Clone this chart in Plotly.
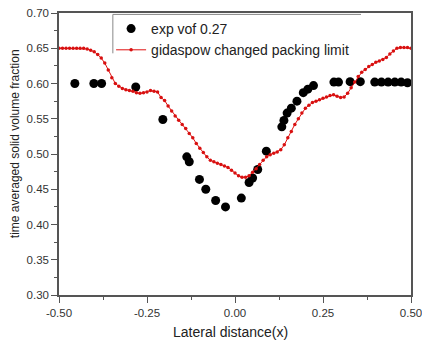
import plotly.graph_objects as go

# Experimental time-averaged solid volume fraction (vof 0.27)
exp_x = [-0.455, -0.401, -0.379, -0.282, -0.205, -0.137, -0.130, -0.101, -0.083,
         -0.055, -0.027, 0.018, 0.040, 0.050, 0.0645, 0.089, 0.133, 0.139, 0.148,
         0.160, 0.176, 0.194, 0.207, 0.223, 0.281, 0.294, 0.327, 0.356, 0.397,
         0.416, 0.435, 0.454, 0.472, 0.490]
exp_y = [0.600, 0.600, 0.600, 0.595, 0.549, 0.496, 0.489, 0.464, 0.450,
         0.434, 0.425, 0.4375, 0.4595, 0.466, 0.478, 0.504, 0.5385, 0.5476, 0.558,
         0.565, 0.575, 0.587, 0.592, 0.597, 0.602, 0.602, 0.6026, 0.6026, 0.602,
         0.602, 0.602, 0.602, 0.602, 0.601]

# Simulation: Gidaspow drag with changed packing limit
sim_x = [round(-0.50 + 0.01 * i, 2) for i in range(101)]
sim_y = [0.650, 0.650, 0.650, 0.650, 0.650, 0.650, 0.650, 0.650, 0.649, 0.647,
         0.645, 0.641, 0.636, 0.629, 0.619, 0.608, 0.600, 0.596, 0.593, 0.591,
         0.590, 0.589, 0.587, 0.586, 0.587, 0.588, 0.590, 0.589, 0.588, 0.580,
         0.576, 0.568, 0.561, 0.554, 0.548, 0.542, 0.536, 0.529, 0.523, 0.515,
         0.508, 0.502, 0.496, 0.491, 0.489, 0.487, 0.485, 0.483, 0.481, 0.477,
         0.473, 0.469, 0.467, 0.467, 0.469, 0.474, 0.479, 0.485, 0.491, 0.496,
         0.499, 0.501, 0.503, 0.506, 0.513, 0.523, 0.532, 0.542, 0.550, 0.558,
         0.565, 0.569, 0.573, 0.575, 0.577, 0.579, 0.581, 0.583, 0.584, 0.582,
         0.580, 0.581, 0.586, 0.594, 0.602, 0.610, 0.616, 0.620, 0.624, 0.627,
         0.630, 0.632, 0.634, 0.637, 0.642, 0.646, 0.650, 0.651, 0.651, 0.651,
         0.650]

x_ticks = [-0.50, -0.25, 0.00, 0.25, 0.50]
x_tick_text = ["-0.50", "-0.25", "0.00", "0.25", "0.50"]
y_ticks = [0.30, 0.35, 0.40, 0.45, 0.50, 0.55, 0.60, 0.65, 0.70]
y_tick_text = ["0.30", "0.35", "0.40", "0.45", "0.50", "0.55", "0.60", "0.65", "0.70"]

FONT = "Arial, Liberation Sans, sans-serif"
AXIS = "#555555"

fig = go.Figure()
fig.add_trace(go.Scatter(
    x=exp_x, y=exp_y, mode="markers", name="exp vof 0.27",
    marker=dict(color="black", size=9, line=dict(width=0)),
))
fig.add_trace(go.Scatter(
    x=sim_x, y=sim_y, mode="lines+markers", name="gidaspow changed packing limit",
    line=dict(color="#e01010", width=1),
    marker=dict(color="#d81010", size=3.5),
))

axis_common = dict(
    showline=True, linecolor=AXIS, linewidth=1.5, mirror=True,
    ticks="outside", ticklen=6, tickwidth=1.2, tickcolor=AXIS,
    showgrid=False, zeroline=False, automargin=False,
    ticklabeloverflow="allow",
    tickfont=dict(family=FONT, size=11.5, color="#333333"),
)

fig.update_xaxes(
    range=[-0.5, 0.5], tickvals=x_ticks, ticktext=x_tick_text,
    minor=dict(dtick=0.125, ticks="outside", ticklen=3, tickcolor=AXIS, tickwidth=1),
    **axis_common,
)
fig.update_yaxes(
    range=[0.30, 0.70], tickvals=y_ticks, ticktext=y_tick_text,
    minor=dict(dtick=0.025, ticks="outside", ticklen=3, tickcolor=AXIS, tickwidth=1),
    **axis_common,
)

# Axis titles
fig.add_annotation(text="Lateral distance(x)", xref="paper", yref="paper",
                   x=0.4886, y=-0.13, xanchor="center", yanchor="middle", showarrow=False,
                   font=dict(family=FONT, size=14, color="#222222"))
fig.add_annotation(text="time averaged solid volume fraction", xref="paper", yref="paper",
                   x=-0.125, y=0.535, xanchor="center", yanchor="middle", showarrow=False,
                   textangle=-90, font=dict(family=FONT, size=12, color="#222222"))

# Partial legend frame (top and left edges)
fig.add_shape(type="line", xref="paper", yref="paper", x0=0.153, x1=0.858, y0=0.995, y1=0.995,
              line=dict(color="#888888", width=1))
fig.add_shape(type="line", xref="paper", yref="paper", x0=0.153, x1=0.153, y0=0.995, y1=0.857,
              line=dict(color="#888888", width=1))

fig.update_layout(
    width=422, height=348,
    margin=dict(l=59, r=11, t=13, b=53),
    paper_bgcolor="white", plot_bgcolor="white",
    font=dict(family=FONT, color="#222222"),
    legend=dict(
        x=0.148, y=1.0, xanchor="left", yanchor="top",
        bgcolor="rgba(0,0,0,0)", borderwidth=0,
        font=dict(family=FONT, size=14, color="#222222"),
        tracegroupgap=0, itemwidth=30,
    ),
)

fig.write_html("out.html")
